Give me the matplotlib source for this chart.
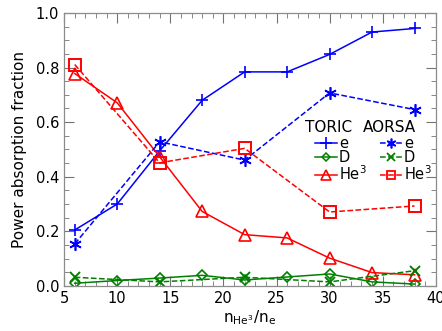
import numpy as np
import matplotlib
matplotlib.use("Agg")
import matplotlib.pyplot as plt
from matplotlib.lines import Line2D
from matplotlib.ticker import MultipleLocator, FormatStrFormatter

# TORIC runs
x_toric = [6, 10, 14, 18, 22, 26, 30, 34, 38]
toric_e = [0.205, 0.30, 0.495, 0.68, 0.784, 0.784, 0.848, 0.93, 0.943]
toric_d = [0.010, 0.020, 0.029, 0.039, 0.022, 0.033, 0.044, 0.015, 0.007]
toric_he3 = [0.778, 0.671, 0.473, 0.273, 0.188, 0.176, 0.102, 0.049, 0.041]

# AORSA runs
x_aorsa = [6, 14, 22, 30, 38]
aorsa_e = [0.154, 0.528, 0.461, 0.707, 0.646]
aorsa_d = [0.032, 0.015, 0.032, 0.015, 0.056]
aorsa_he3 = [0.811, 0.451, 0.504, 0.271, 0.293]

plt.rcParams["font.family"] = ["DejaVu Sans"]
fig = plt.figure(figsize=(4.42, 3.31), dpi=100)
ax = fig.add_axes([0.145, 0.136, 0.841, 0.825])

lw = 1.1
asterisk = (6, 2, 0)
ax.plot(x_toric, toric_e, "-", color="blue", lw=lw, marker="+", ms=9, mew=1.2)
ax.plot(x_toric, toric_d, "-", color="green", lw=lw, marker="D", ms=5,
        mfc="none", mew=1.2)
ax.plot(x_toric, toric_he3, "-", color="red", lw=lw, marker="^", ms=8,
        mfc="none", mew=1.2)
ax.plot(x_aorsa, aorsa_e, "--", color="blue", lw=lw, marker=asterisk, ms=9,
        mew=1.2)
ax.plot(x_aorsa, aorsa_d, "--", color="green", lw=lw, marker="x", ms=7, mew=1.4)
ax.plot(x_aorsa, aorsa_he3, "--", color="red", lw=lw, marker="s", ms=8,
        mfc="none", mew=1.4)

ax.set_xlim(5, 40)
ax.set_ylim(0, 1)
ax.xaxis.set_major_locator(MultipleLocator(5))
ax.xaxis.set_minor_locator(MultipleLocator(1))
ax.yaxis.set_major_locator(MultipleLocator(0.2))
ax.yaxis.set_minor_locator(MultipleLocator(0.05))
ax.yaxis.set_major_formatter(FormatStrFormatter("%.1f"))
ax.tick_params(which="both", direction="in", top=True, right=True,
               color="0.45", labelsize=10.5)
ax.tick_params(which="major", length=7)
ax.tick_params(which="minor", length=3.5)
for s in ax.spines.values():
    s.set_color("0.55")
    s.set_linewidth(0.9)

ax.set_xlabel(r"n$_{\mathrm{He^3}}$/n$_\mathrm{e}$", fontsize=11, labelpad=2)
ax.set_ylabel("Power absorption fraction", fontsize=11, labelpad=6)

# legend: TORIC column then AORSA column
handles = [
    Line2D([], [], color="blue", lw=lw, marker="+", ms=8, mew=1.2),
    Line2D([], [], color="green", lw=lw, marker="D", ms=4, mfc="none", mew=1.1),
    Line2D([], [], color="red", lw=lw, marker="^", ms=6.5, mfc="none", mew=1.2),
    Line2D([], [], color="blue", lw=lw, ls="--", marker=asterisk, ms=7, mew=1.2),
    Line2D([], [], color="green", lw=lw, ls="--", marker="x", ms=5.5, mew=1.3),
    Line2D([], [], color="red", lw=lw, ls="--", marker="s", ms=6, mfc="none", mew=1.3),
]
labels = ["e", "D", r"He$^3$", "e", "D", r"He$^3$"]
ax.legend(handles, labels, ncol=2, frameon=False, fontsize=10.5,
          loc="upper left", bbox_to_anchor=(0.675, 0.55),
          handlelength=1.5, handletextpad=0.15, columnspacing=0.9,
          labelspacing=-0.05, borderpad=0, borderaxespad=0)
ax.text(0.648, 0.582, "TORIC", transform=ax.transAxes, fontsize=11,
        ha="left", va="center")
ax.text(0.804, 0.582, "AORSA", transform=ax.transAxes, fontsize=11,
        ha="left", va="center")

fig.savefig("out.png", dpi=100)
